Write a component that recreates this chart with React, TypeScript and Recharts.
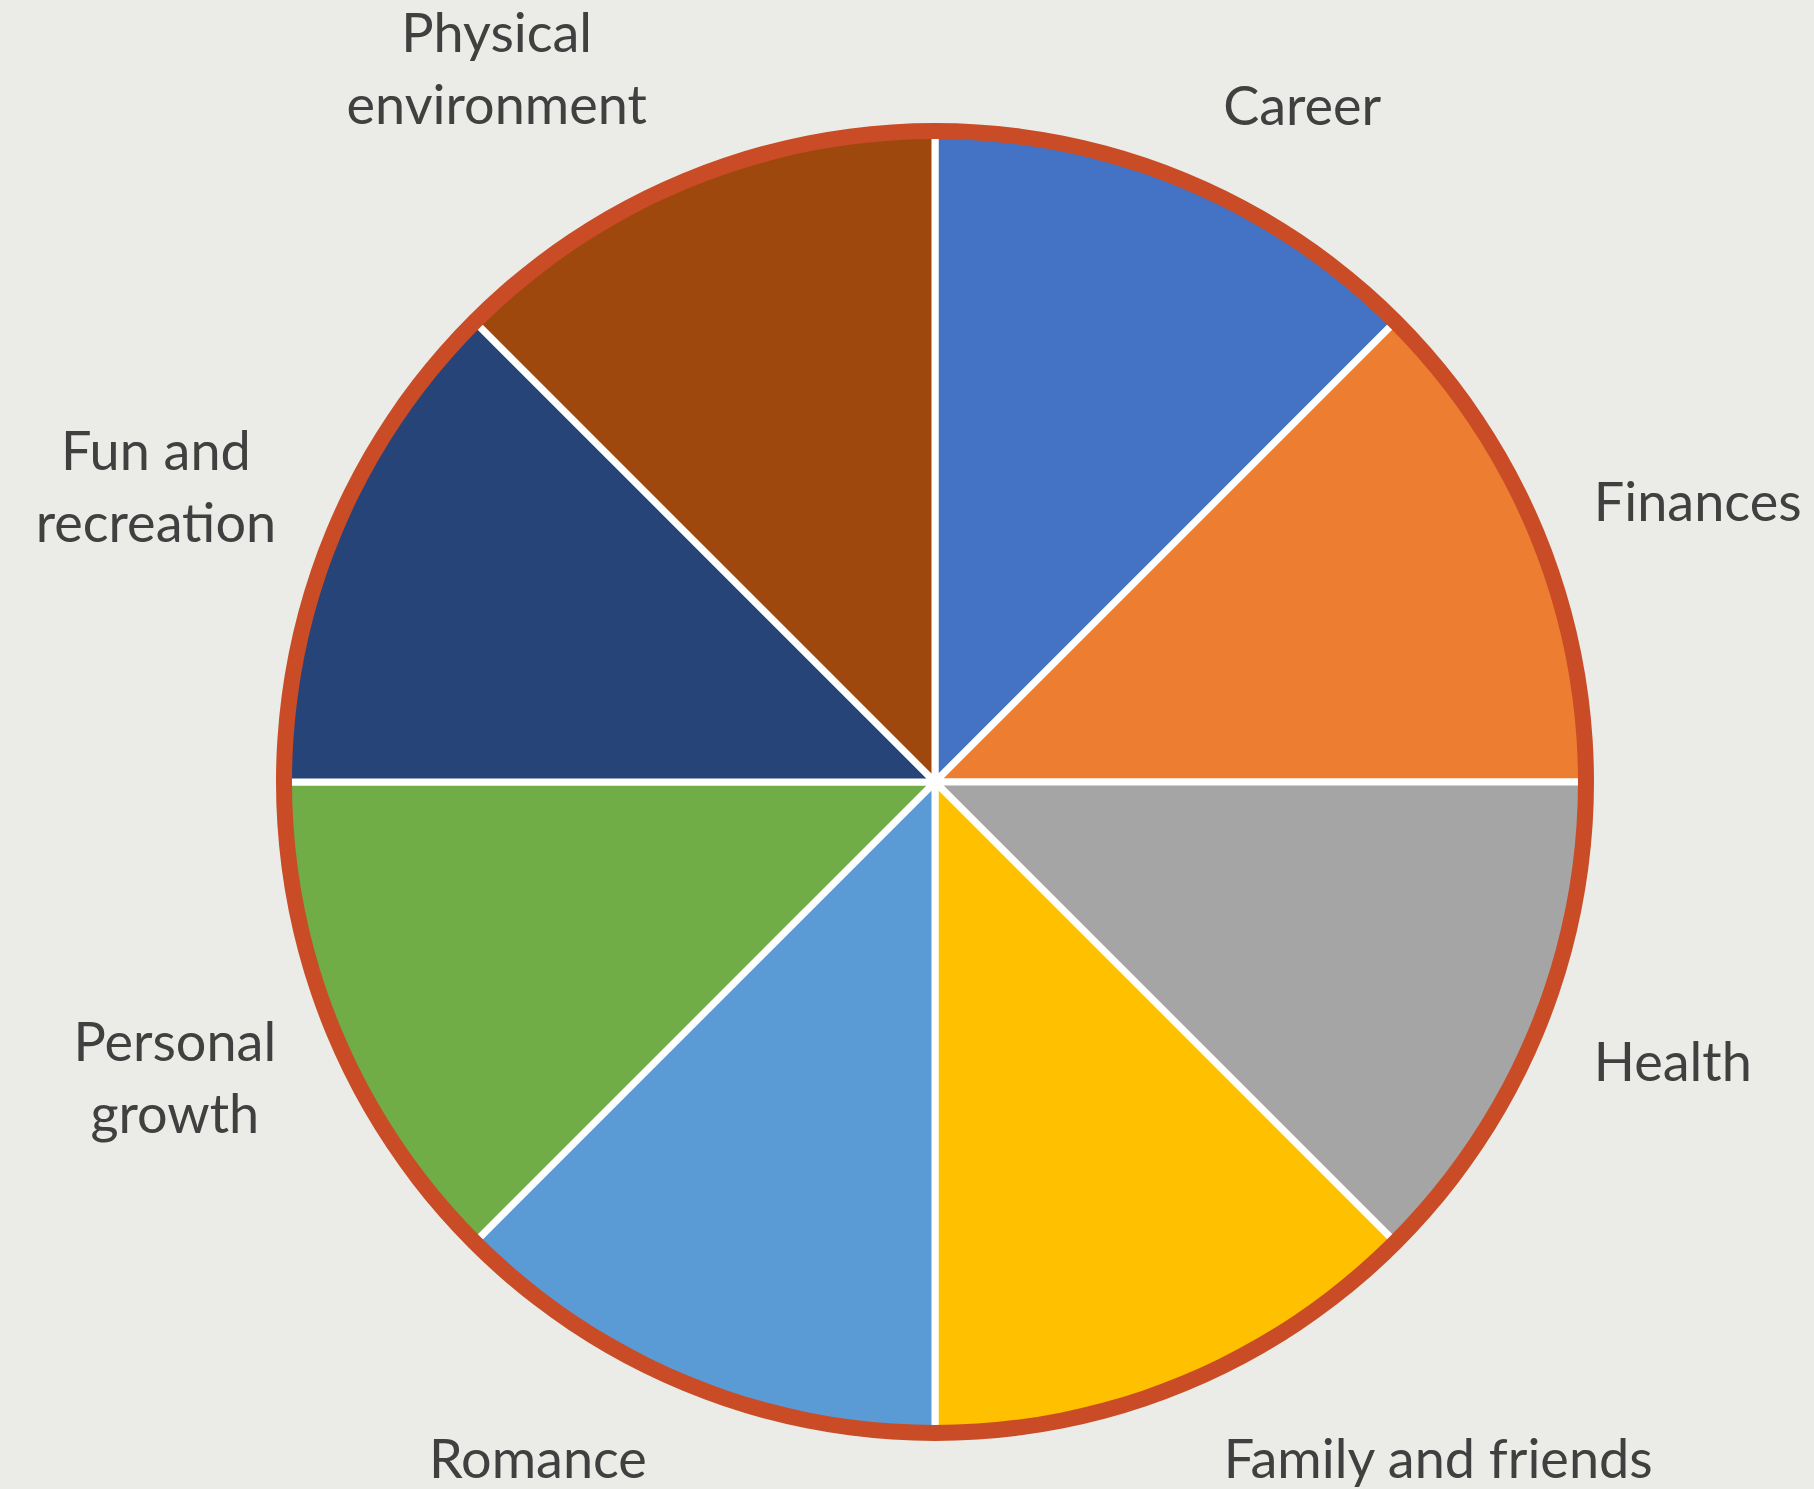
import { PieChart, Pie, Cell } from "recharts";

const CATEGORIES = [
  "Career",
  "Finances",
  "Health",
  "Family and friends",
  "Romance",
  "Personal growth",
  "Fun and recreation",
  "Physical environment",
];

// every area gets the same share of the wheel
const SHARES = [12.5, 12.5, 12.5, 12.5, 12.5, 12.5, 12.5, 12.5];

const LABEL_LINES = [
  ["Career"],
  ["Finances"],
  ["Health"],
  ["Family and friends"],
  ["Romance"],
  ["Personal", "growth"],
  ["Fun and", "recreation"],
  ["Physical", "environment"],
];

const COLORS = [
  "#4472C4",
  "#ED7D31",
  "#A5A5A5",
  "#FFC000",
  "#5B9BD5",
  "#70AD47",
  "#264478",
  "#9E480E",
];

const RIM = [{ name: "rim", value: 100 }];

const W = 1814;
const H = 1489;
const FONT = "Lato";
const FONT_SIZE = 54;
const LINE_H = 72;
const CAP = FONT_SIZE * 0.716;

const data = CATEGORIES.map((name, i) => ({ name, value: SHARES[i] }));

let ctx: CanvasRenderingContext2D | null = null;
const measure = (t: string) => {
  if (!ctx) ctx = document.createElement("canvas").getContext("2d");
  if (!ctx) return t.length * FONT_SIZE * 0.5;
  ctx.font = `${FONT_SIZE}px ${FONT}`;
  return ctx.measureText(t).width;
};

// outside-end labels, box corner pushed out along the slice's mid angle
const renderLabel = (props: any) => {
  const { cx, cy, midAngle, outerRadius, index } = props;
  const lines = LABEL_LINES[index];
  const rad = (midAngle * Math.PI) / 180;
  const c = Math.cos(rad);
  const s = Math.sin(rad);
  const R = outerRadius + 9;
  const w = Math.max(...lines.map(measure));
  const near = cx + Math.sign(c) * ((R + 28) * Math.abs(c) + 26);
  const x = c >= 0 ? near + w / 2 : near - w / 2;
  const py = cy - (R + 75) * s;
  const n = lines.length;
  const blockY = py - Math.sign(s) * (n - 1) * (LINE_H / 2) * Math.abs(s) * 1.1;
  return (
    <g>
      {lines.map((t, i) => (
        <text
          key={t}
          x={x}
          y={blockY + (i - (n - 1) / 2) * LINE_H + CAP / 2}
          textAnchor="middle"
          fill="#404040"
          fontFamily={FONT}
          fontSize={FONT_SIZE}>
          {t}
        </text>
      ))}
    </g>
  );
};

export default function App() {
  return (
    <div
      style={{
        position: "absolute",
        left: 0,
        top: 0,
        width: W,
        height: H,
        background: "#EBECE7",
      }}>
      <PieChart width={W} height={H} margin={{ top: 0, right: 0, bottom: 0, left: 0 }}>
        <Pie
          data={data}
          dataKey="value"
          nameKey="name"
          cx={935}
          cy={782}
          outerRadius={648}
          startAngle={90}
          endAngle={-270}
          stroke="#FFFFFF"
          strokeWidth={7}
          label={renderLabel}
          labelLine={false}
          isAnimationActive={false}>
          {data.map((entry, index) => (
            <Cell key={`cell-${index}`} fill={COLORS[index % COLORS.length]} />
          ))}
        </Pie>
        <Pie
          data={RIM}
          dataKey="value"
          cx={935}
          cy={782}
          innerRadius={643}
          outerRadius={659}
          startAngle={90}
          endAngle={-270}
          fill="#C94C26"
          stroke="none"
          isAnimationActive={false}
        />
      </PieChart>
    </div>
  );
}
